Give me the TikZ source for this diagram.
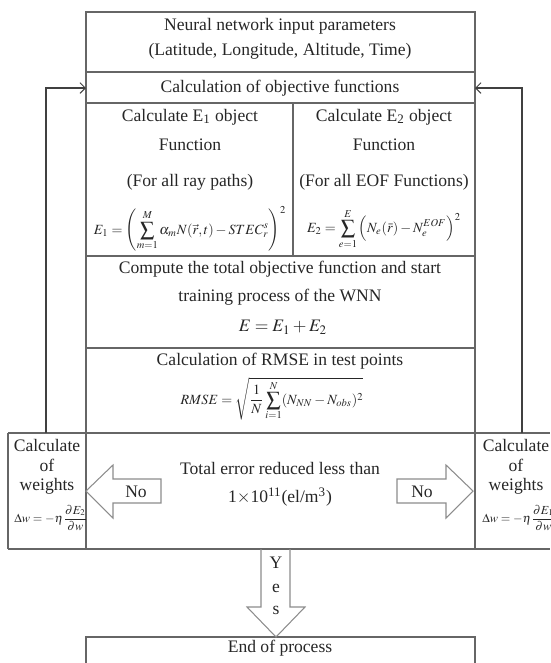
\documentclass[tikz,border=0pt]{standalone}
\usepackage{mathptmx}
\usepackage[no-math]{fontspec}
\setmainfont{Liberation Serif}
\usetikzlibrary{arrows.meta}

\tikzset{
  grid/.style={draw=black!60, line width=0.6pt},
  hollow/.style={draw=black!45, line width=0.6pt, line join=miter},
  txt/.style={text=black!85, inner sep=1pt},
  formula/.style={txt, inner sep=0pt},
  feedback/.style={draw=black!75, line width=0.6pt, -{Straight Barb[length=3pt, width=6pt]}}
}

\begin{document}
\begin{tikzpicture}[x=0.2mm, y=-0.2mm]
        \useasboundingbox (0,0) rectangle (550,663);

        % Main table
        \draw[grid] (86,12) rectangle (475,549);
        \draw[grid] (86,72) -- (475,72);
        \draw[grid] (86,103) -- (475,103);
        \draw[grid] (293,103) -- (293,256);
        \draw[grid] (86,256) -- (475,256);
        \draw[grid] (86,348) -- (475,348);

        % Decision row with weight boxes
        \draw[grid] (8,433) -- (550,433);
        \draw[grid] (8,549) -- (550,549);
        \draw[grid] (8,433) -- (8,549);

        % End box
        \draw[grid] (86,663) -- (86,637) -- (475,637) -- (475,663);

        % Input parameters
        \node[txt] (inpA) at (280,26) {Neural network input parameters};
        \node[txt] (inpB) at (280,51) {(Latitude, Longitude, Altitude, Time)};
        \node[txt] (objfun) at (280,88) {Calculation of objective functions};

        % E1 column
        \node[txt] (eoneA) at (190,117) {Calculate E\textsubscript{1} object};
        \node[txt] (eoneB) at (190,145) {Function};
        \node[txt] (eoneC) at (190,182) {(For all ray paths)};
        \node[formula, font=\footnotesize] (eoneF) at (190,229)
            {$\displaystyle E_1=\left(\sum_{m=1}^{M}\alpha_m N(\vec{r},t)-STEC_r^{s}\right)^{2}$};

        % E2 column
        \node[txt] (etwoA) at (384,117) {Calculate E\textsubscript{2} object};
        \node[txt] (etwoB) at (384,145) {Function};
        \node[txt] (etwoC) at (384,182) {(For all EOF Functions)};
        \node[formula, font=\footnotesize] (etwoF) at (384,229)
            {$\displaystyle E_2=\sum_{e=1}^{E}\left(N_e(\bar{r})-N_e^{EOF}\right)^{2}$};

        % Total objective
        \node[txt] (totA) at (280,269) {Compute the total objective function and start};
        \node[txt] (totB) at (280,297) {training process of the WNN};
        \node[txt] (totF) at (283,327) {$E=E_1+E_2$};

        % RMSE
        \node[txt] (rmseA) at (280,361) {Calculation of RMSE in test points};
        \node[formula, font=\footnotesize] (rmseF) at (272,399)
            {$\displaystyle RMSE=\sqrt{\frac{1}{N}\sum_{i=1}^{N}(N_{NN}-N_{obs})^2}$};

        % Decision
        \node[txt] (decA) at (280,468) {Total error reduced less than};
        \node[txt] (decB) at (280,497) {1$\times$10\textsuperscript{11}(el/m\textsuperscript{3})};

        % Hollow arrows
        \draw[hollow] (86,491) -- (113,465) -- (113,479) -- (161,479) -- (161,503)
            -- (113,503) -- (113,518) -- cycle;
        \draw[hollow] (473,491) -- (446,465) -- (446,479) -- (397,479) -- (397,503)
            -- (446,503) -- (446,518) -- cycle;
        \draw[hollow] (261,549) -- (261,607) -- (247,607) -- (276,637) -- (305,607)
            -- (290,607) -- (290,549);
        \node[txt] (noL) at (136,492) {No};
        \node[txt] (noR) at (422,492) {No};
        \node[txt] (yesY) at (276,563) {Y};
        \node[txt] (yesE) at (276,588) {e};
        \node[txt] (yesS) at (276,610) {s};

        % Weight boxes
        \node[txt] (lwA) at (47,445) {Calculate};
        \node[txt] (lwB) at (47,465) {of};
        \node[txt] (lwC) at (47,486) {weights};
        \node[formula, font=\scriptsize] (lwF) at (51,518)
            {$\displaystyle \Delta w=-\eta\frac{\partial E_2}{\partial w}$};
        \node[txt] (rwA) at (516,445) {Calculate};
        \node[txt] (rwB) at (516,465) {of};
        \node[txt] (rwC) at (516,486) {weights};
        \node[formula, font=\scriptsize] (rwF) at (519,518)
            {$\displaystyle \Delta w=-\eta\frac{\partial E_1}{\partial w}$};

        % Feedback lines
        \coordinate (lwtop) at (46,433);
        \coordinate (rwtop) at (522,433);
        \coordinate (lin) at (86,88);
        \coordinate (rin) at (475,88);
        \draw[feedback] (lwtop) |- (lin);
        \draw[feedback] (rwtop) |- (rin);

        % End
        \node[txt] (endp) at (280,648) {End of process};
    \end{tikzpicture}
\end{document}
